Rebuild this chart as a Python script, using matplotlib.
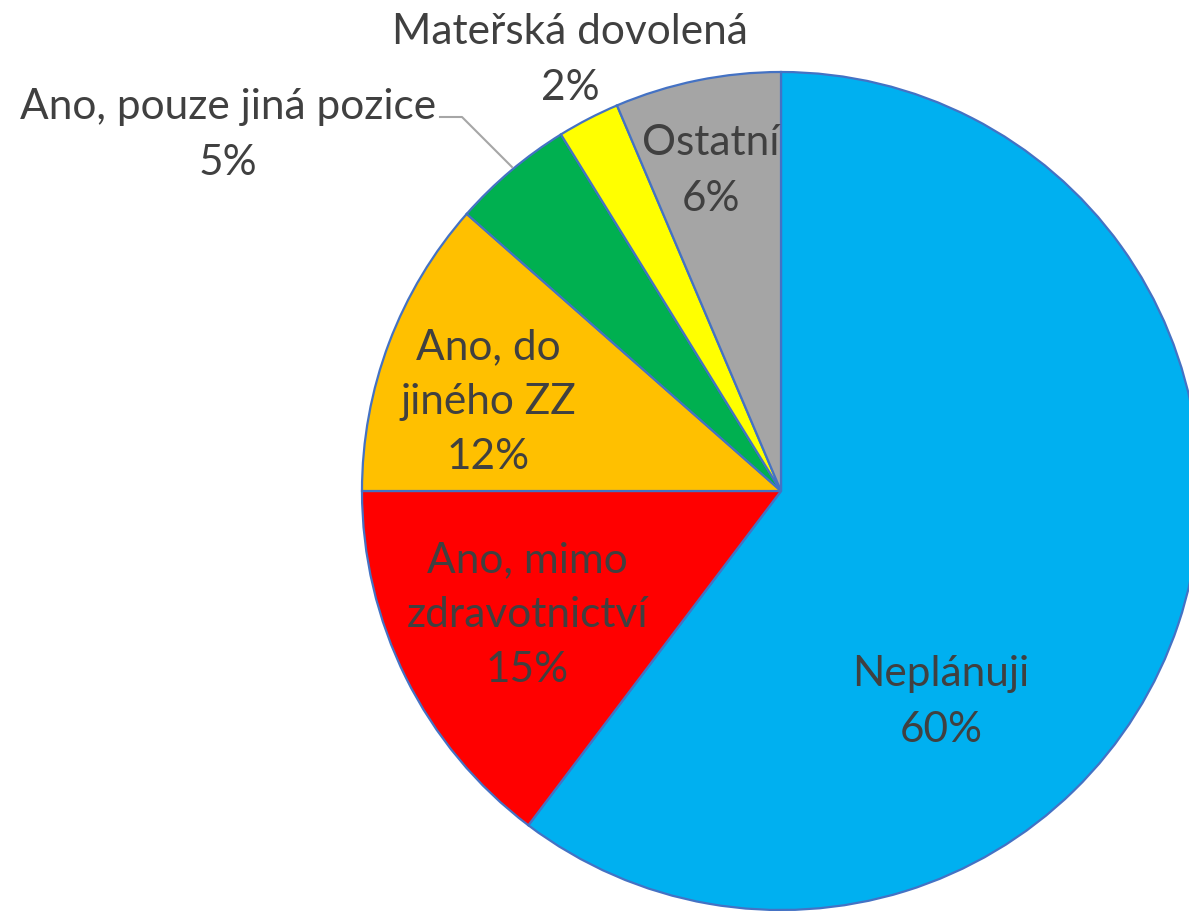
import matplotlib.pyplot as plt

# Data
labels = ["Neplánuji", "Ano, mimo\nzdravotnictví", "Ano, do\njiného ZZ",
          "Ano, pouze jiná pozice", "Mateřská dovolená", "Ostatní"]
values = [60.3, 14.7, 11.5, 4.7, 2.4, 6.4]
pct_labels = ["60%", "15%", "12%", "5%", "2%", "6%"]
colors = ["#00B0F0", "#FF0000", "#FFC000", "#00B050", "#FFFF00", "#A5A5A5"]

plt.rcParams['font.family'] = ['Lato', 'DejaVu Sans']

fig = plt.figure(figsize=(11.89, 9.12), dpi=100)
ax = fig.add_axes([0, 0, 1, 1])

# Pie in pixel coordinates (y up)
cx, cy, r = 781, 912 - 492, 419
ax.pie(values, colors=colors, startangle=90, counterclock=False,
       center=(cx, cy), radius=r, frame=True,
       wedgeprops=dict(edgecolor="#4472C4", linewidth=1.6))

ax.set_xlim(0, 1189)
ax.set_ylim(0, 912)
ax.set_aspect('equal')
ax.axis('off')

txt = "#404040"
fs = 30.5
# label positions (pixel coords, top-down y)
pos = [(941, 702), (527, 615), (488, 402), (228, 135), (570, 60), (711, 171)]
for (x, y), lab, p in zip(pos, labels, pct_labels):
    ax.text(x, 912 - y, lab + "\n" + p, ha="center", va="center",
            fontsize=fs, color=txt, linespacing=1.55)

# leader line for small slice
ax.plot([440, 462, 512], [912 - 118, 912 - 118, 912 - 168],
        color="#A6A6A6", linewidth=1.5)

fig.savefig("out.png", dpi=100)
